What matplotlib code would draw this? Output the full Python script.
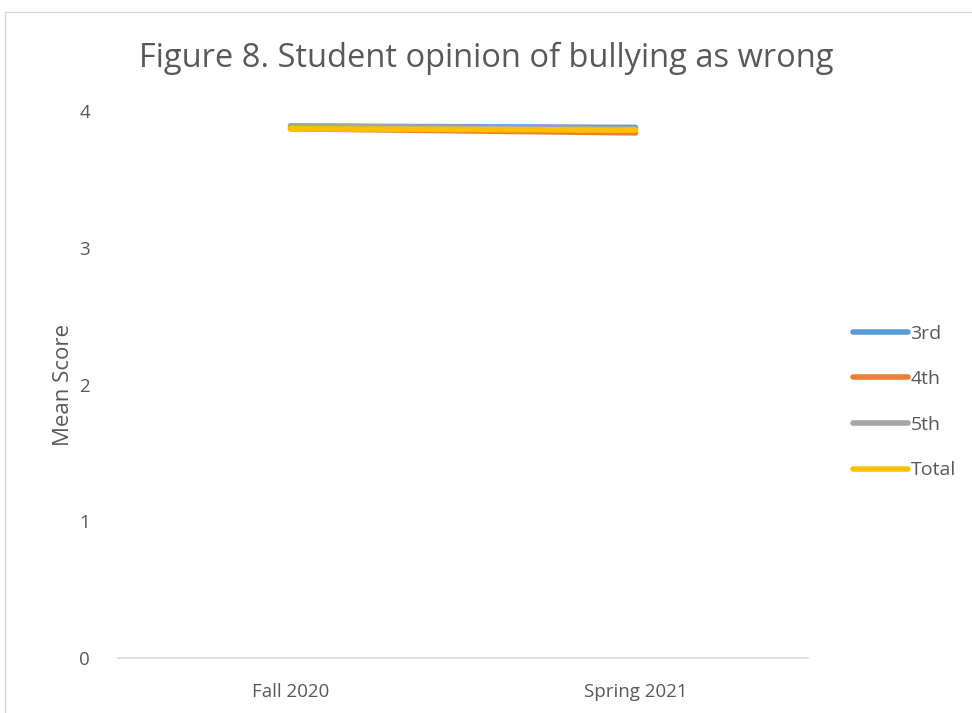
import matplotlib.pyplot as plt
from matplotlib.patches import Rectangle

terms = ['Fall 2020', 'Spring 2021']
grade3 = [3.89, 3.88]
grade4 = [3.87, 3.84]
grade5 = [3.89, 3.87]
total = [3.87, 3.86]

names = ['3rd', '4th', '5th', 'Total']
colors = ['#5B9BD5', '#ED7D31', '#A5A5A5', '#FFC000']

plt.rcParams['font.family'] = ['Open Sans', 'DejaVu Sans']
fig = plt.figure(figsize=(9.72, 7.13), dpi=100)
ax = fig.add_axes([0.1214, 0.0771, 0.7099, 0.7672])

# chart border
fig.patches.append(Rectangle((0.005, -0.1), 1.1, 1.083, transform=fig.transFigure,
                             fill=False, edgecolor='#d9d9d9', linewidth=1))

x = range(len(terms))
for vals, name, c in zip([grade3, grade4, grade5, total], names, colors):
    ax.plot(x, vals, color=c, linewidth=4, solid_capstyle='round', label=name)

ax.set_xlim(-0.5, 1.5)
ax.set_ylim(0, 4)
ax.set_yticks([0, 1, 2, 3, 4])
ax.set_xticks(list(x))
ax.set_xticklabels(terms)
ax.tick_params(length=0, labelsize=13.5, labelcolor='#595959')
ax.tick_params(axis='y', pad=20)
ax.tick_params(axis='x', pad=18)
for s in ['top', 'right', 'left']:
    ax.spines[s].set_visible(False)
ax.spines['bottom'].set_color('#d9d9d9')
ax.spines['bottom'].set_linewidth(1.2)

ax.set_ylabel('Mean Score', fontsize=16, color='#595959', labelpad=4)
fig.text(0.5, 0.918, 'Figure 8. Student opinion of bullying as wrong', ha='center',
         va='center', fontsize=23.5, color='#595959')

leg = ax.legend(loc='center left', bbox_to_anchor=(1.04, 0.468), frameon=False,
                fontsize=14, handlelength=2.8, handletextpad=0.15, labelspacing=1.42)
for t in leg.get_texts():
    t.set_color('#595959')

fig.savefig('out.png', dpi=100)
